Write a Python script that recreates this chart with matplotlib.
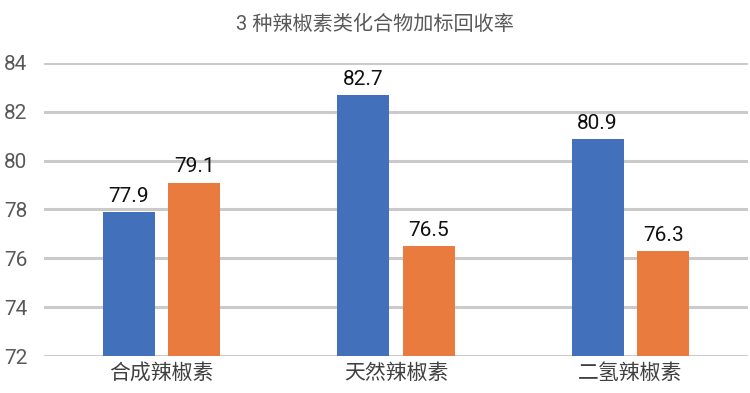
import matplotlib.pyplot as plt
import numpy as np

plt.rcParams['font.family'] = ['Roboto', 'Noto Sans CJK SC', 'DejaVu Sans']

# data
categories = ['合成辣椒素', '天然辣椒素', '二氢辣椒素']
series_a = [77.9, 82.7, 80.9]
series_b = [79.1, 76.5, 76.3]
yticks = [72, 74, 76, 78, 80, 82, 84]

fig = plt.figure(figsize=(7.5, 3.93), dpi=100)
ax = fig.add_axes([0.059, 0.094, 0.938, 0.746])

x = np.arange(len(categories))
w = 0.222
off = 0.14
bars_a = ax.bar(x - off, series_a, w, color='#4270BA', zorder=3)
bars_b = ax.bar(x + off, series_b, w, color='#E97B3E', zorder=3)

for bars in (bars_a, bars_b):
    for b in bars:
        h = b.get_height()
        ax.text(b.get_x() + b.get_width() / 2, h + 0.25, f'{h:.1f}',
                ha='center', va='bottom', fontsize=15, color='#111111')

ax.set_ylim(72, 84)
ax.set_xlim(-0.5, 2.5)
ax.set_yticks(yticks)
ax.set_xticks(x)
ax.set_xticklabels(categories)
ax.tick_params(axis='y', length=0, labelsize=15, labelcolor='#595959', pad=12)
ax.tick_params(axis='x', length=0, labelsize=15, labelcolor='#404040', pad=5)
ax.grid(axis='y', color='#CACACA', linewidth=2.2, zorder=0)
for s in ax.spines.values():
    s.set_visible(False)

fig.suptitle('3 种辣椒素类化合物加标回收率', y=0.962, fontsize=14.5, color='#595959')

fig.savefig('out.png', dpi=100)
